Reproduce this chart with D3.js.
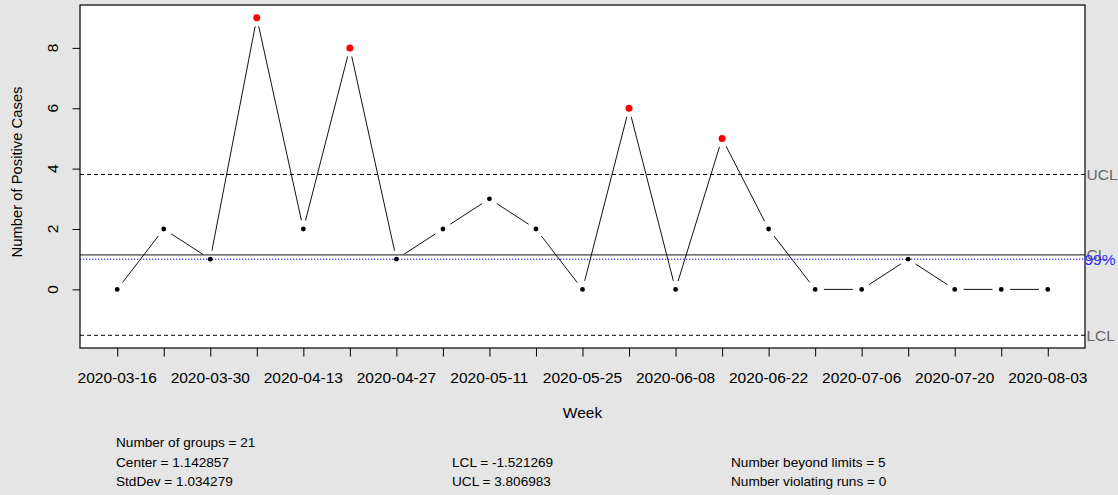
<!DOCTYPE html>
<html>
<head>
<meta charset="utf-8">
<script src="https://cdn.jsdelivr.net/npm/d3@7"></script>
<style>
  html, body { margin: 0; padding: 0; background: #e5e5e5; }
  svg { display: block; font-family: "Liberation Sans", Arial, sans-serif; }
</style>
</head>
<body>
<svg id="chart" width="1118" height="495"></svg>
<script>
// ---- data ----
const weeks = ["2020-03-16","2020-03-23","2020-03-30","2020-04-06","2020-04-13","2020-04-20","2020-04-27",
  "2020-05-04","2020-05-11","2020-05-18","2020-05-25","2020-06-01","2020-06-08","2020-06-15",
  "2020-06-22","2020-06-29","2020-07-06","2020-07-13","2020-07-20","2020-07-27","2020-08-03"];
const cases = [0,2,1,9,2,8,1,2,3,2,0,6,0,5,2,0,0,1,0,0,0];
const centerValue = 1.142857;
const lclValue = -1.521269;
const uclValue = 3.806983;
const levelValue = 1.0;          // blue dotted "99%" line
const levelLabel = "99%";
const yTicks = [0, 2, 4, 6, 8];
const statsLeft = ["Number of groups = 21", "Center = 1.142857", "StdDev = 1.034279"];
const statsMid = ["LCL = -1.521269", "UCL = 3.806983"];
const statsRight = ["Number beyond limits = 5", "Number violating runs = 0"];

// ---- layout ----
const W = 1118, H = 495;
const plot = { left: 80, right: 1085, top: 5, bottom: 348 };
const svg = d3.select("#chart");

svg.append("rect").attr("x", 0).attr("y", 0).attr("width", W).attr("height", H).attr("fill", "#e5e5e5");

const n = cases.length;
const xExt = (n - 1) * 0.04;
const x = d3.scaleLinear().domain([1 - xExt, n + xExt]).range([plot.left, plot.right]);
const lo = Math.min(lclValue, d3.min(cases)), hi = Math.max(uclValue, d3.max(cases));
const yExt = (hi - lo) * 0.04;
const y = d3.scaleLinear().domain([lo - yExt, hi + yExt]).range([plot.bottom, plot.top]);

svg.append("rect").attr("x", plot.left).attr("y", plot.top)
  .attr("width", plot.right - plot.left).attr("height", plot.bottom - plot.top)
  .attr("fill", "#ffffff");

// control lines
function hline(v, stroke, dash, w) {
  svg.append("line").attr("x1", plot.left).attr("x2", plot.right)
    .attr("y1", y(v)).attr("y2", y(v))
    .attr("stroke", stroke).attr("stroke-width", w)
    .attr("stroke-dasharray", dash);
}
hline(uclValue, "#000", "4,3", 1);
hline(lclValue, "#000", "4,3", 1);
hline(centerValue, "#444", null, 1.3);
hline(levelValue, "#0000ff", "1.3,1.7", 1);

// connecting segments with gaps (R type "b")
const gap = 8.8;
const seg = svg.append("g").attr("stroke", "#111").attr("stroke-width", 1).attr("fill", "none");
for (let i = 0; i < n - 1; i++) {
  const x1 = x(i + 1), y1 = y(cases[i]), x2 = x(i + 2), y2 = y(cases[i + 1]);
  const dx = x2 - x1, dy = y2 - y1, L = Math.hypot(dx, dy);
  if (L <= 2 * gap) continue;
  const ux = dx / L, uy = dy / L;
  seg.append("line")
    .attr("x1", x1 + ux * gap).attr("y1", y1 + uy * gap)
    .attr("x2", x2 - ux * gap).attr("y2", y2 - uy * gap);
}

// points
svg.append("g").selectAll("circle").data(cases).join("circle")
  .attr("cx", (d, i) => x(i + 1))
  .attr("cy", d => y(d))
  .attr("r", d => (d > uclValue || d < lclValue) ? 3.5 : 2.4)
  .attr("fill", d => (d > uclValue || d < lclValue) ? "#ff0000" : "#000");

// box
svg.append("rect").attr("x", plot.left).attr("y", plot.top)
  .attr("width", plot.right - plot.left).attr("height", plot.bottom - plot.top)
  .attr("fill", "none").attr("stroke", "#000").attr("stroke-width", 1.2);

// y axis
const yAxis = svg.append("g").attr("transform", `translate(${plot.left},0)`)
  .call(d3.axisLeft(y).tickValues(yTicks).tickSize(7.5).tickFormat(""));
yAxis.select(".domain").remove();
yAxis.selectAll(".tick line").attr("stroke", "#000");
svg.append("g").selectAll("text").data(yTicks).join("text")
  .attr("transform", d => `translate(57.5,${y(d)}) rotate(-90)`)
  .attr("text-anchor", "middle").attr("font-size", 15.5).attr("fill", "#000")
  .text(d => d);

// x axis
const xAxis = svg.append("g").attr("transform", `translate(0,${plot.bottom})`)
  .call(d3.axisBottom(x).tickValues(d3.range(1, n + 1)).tickSize(8.5).tickFormat(""));
xAxis.select(".domain").remove();
xAxis.selectAll(".tick line").attr("stroke", "#000");
svg.append("g").selectAll("text").data(weeks.map((w, i) => ({ w, i })).filter(d => d.i % 2 === 0)).join("text")
  .attr("x", d => x(d.i + 1)).attr("y", 382.5)
  .attr("text-anchor", "middle").attr("font-size", 15.5).attr("fill", "#000")
  .text(d => d.w);

// axis titles
svg.append("text").attr("x", (plot.left + plot.right) / 2).attr("y", 417.8)
  .attr("text-anchor", "middle").attr("font-size", 15.5).attr("fill", "#000").text("Week");
svg.append("text").attr("transform", `translate(21.5,172) rotate(-90)`)
  .attr("text-anchor", "middle").attr("font-size", 14.8).attr("fill", "#000").text("Number of Positive Cases");

// right labels
function rlabel(v, txt, color, dx) {
  svg.append("text").attr("x", plot.right + dx).attr("y", y(v) + 5.5)
    .attr("font-size", 15.5).attr("fill", color).text(txt);
}
rlabel(uclValue, "UCL", "#666", 1.5);
rlabel(centerValue, "CL", "#666", 1.5);
rlabel(levelValue, levelLabel, "#2b2bff", -0.5);
rlabel(lclValue, "LCL", "#666", 1.5);

// stats
const rows = [447, 466.8, 485.6];
function stats(arr, xx, startRow) {
  arr.forEach((t, i) => svg.append("text").attr("x", xx).attr("y", rows[startRow + i])
    .attr("font-size", 13.6).attr("fill", "#000").text(t));
}
stats(statsLeft, 116, 0);
stats(statsMid, 452, 1);
stats(statsRight, 731, 1);
</script>
</body>
</html>
